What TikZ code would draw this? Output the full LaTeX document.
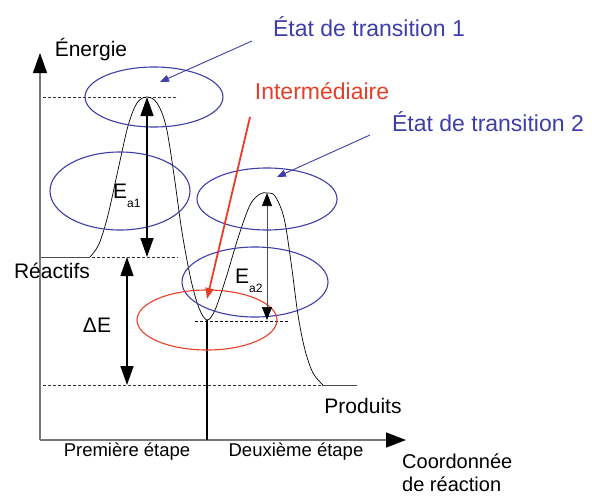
\documentclass[tikz,border=0pt]{standalone}
\usepackage{fontspec}
\setmainfont{Liberation Sans}
\usetikzlibrary{arrows.meta,shapes.geometric}
\definecolor{tblue}{RGB}{62,62,170}
\definecolor{tred}{RGB}{232,62,40}
\definecolor{axgray}{RGB}{120,120,120}
\tikzset{
  lab/.style={font=\fontsize{21}{24}\selectfont, inner sep=0pt},
  small/.style={font=\fontsize{18.5}{20}\selectfont, inner sep=0pt},
  blab/.style={font=\fontsize{23}{26}\selectfont, text=tblue, inner sep=0pt},
  rlab/.style={font=\fontsize{23}{26}\selectfont, text=tred, inner sep=0pt},
  ring/.style={ellipse, draw=tblue, line width=1.1pt, inner sep=0pt},
  rring/.style={ellipse, draw=tred, line width=1.1pt, inner sep=0pt},
  level/.style={draw=black!80, line width=0.6pt, dash pattern=on 3pt off 2pt},
  axis/.style={draw=axgray, line width=1.3pt},
  bigdbl/.style={line width=1.4pt, {Triangle[length=19pt,width=13pt]}-{Triangle[length=19pt,width=13pt]}},
  thindbl/.style={line width=0.7pt, draw=black!70, {Triangle[length=13pt,width=10pt,color=black]}-{Triangle[length=13pt,width=10pt,color=black]}},
  bptr/.style={draw=tblue, line width=0.9pt, -{Triangle[length=9pt,width=7pt]}},
  rptr/.style={draw=tred, line width=1.8pt, -{Triangle[length=11pt,width=8pt]}},
}
\begin{document}
\begin{tikzpicture}[x=1pt,y=-1pt]
\useasboundingbox (0,0) rectangle (592,498);
% key points
\coordinate (O) at (40,440);
\coordinate (ytip) at (40,53);
\coordinate (xtip) at (406,440);
\coordinate (peak1) at (147,97);
\coordinate (react) at (147,257);
\coordinate (inter) at (207,320);
\coordinate (peak2) at (267,193);
\coordinate (ea2b) at (267,320);
\coordinate (dEt) at (127,257);
\coordinate (dEb) at (127,385);
% dashed levels
\draw[level] (43,97) -- (178,97);
\draw[level] (92,257) -- (178,257);
\draw[level] (43,385) -- (322,385);
\draw[black, line width=1pt, dash pattern=on 3pt off 2pt] (195,321) -- (288,321);
% solid level parts
\draw[black!70, line width=0.7pt] (40,257) -- (90,257);
\draw[black!70, line width=0.7pt] (322,385) -- (357,385);
% axes
\draw[axis, -{Triangle[length=20pt,width=14pt,color=black]}] (O) -- (ytip);
\draw[axis, -{Triangle[length=20pt,width=15pt,color=black]}] (O) -- (xtip);
% step separator
\coordinate (sepb) at (207,440);
\draw[black, line width=1.5pt] (inter) -- (sepb);
% energy profile
\draw[black, line width=0.7pt] plot[smooth, tension=0.55] coordinates {
 (90,257) (99,244) (108,215) (118,170) (128,126) (137,103) (147,97) (157,103)
 (166,126) (174,175) (182,232) (191,280) (199,308) (207,320) (215,310)
 (226,278) (238,238) (250,205) (260,194) (267,193) (275,196) (284,218)
 (291,262) (298,315) (305,350) (313,373) (323,385)};
% ellipses
\node[ring, minimum width=138pt, minimum height=60pt] (e1) at (154,97) {};
\node[ring, minimum width=140pt, minimum height=78pt] (e2) at (120,191) {};
\node[ring, minimum width=140pt, minimum height=62pt] (e3) at (267,199) {};
\node[ring, minimum width=146pt, minimum height=70pt] (e4) at (255,282) {};
\node[rring, minimum width=140pt, minimum height=60pt] (e5) at (207,320) {};
% energy arrows
\draw[bigdbl] (peak1) -- (react);
\draw[bigdbl] (dEt) -- (dEb);
\draw[thindbl] (peak2) -- (ea2b);
% labels
\node[lab] (en) at (91,50) {Énergie};
\node[lab] (re) at (52,271) {Réactifs};
\node[lab] (de) at (97,325) {ΔE};
\node[lab] (pr) at (363,406) {Produits};
\node[lab, anchor=base west] (ea1) at (113,198) {E\raisebox{-9pt}{\fontsize{12}{12}\selectfont a1}};
\node[lab, anchor=base west] (ea2) at (235,283) {E\raisebox{-9pt}{\fontsize{12}{12}\selectfont a2}};
\node[small] (s1) at (127,452) {Première étape};
\node[small] (s2) at (296,452) {Deuxième étape};
\node[lab, align=left, anchor=north west, font=\fontsize{20}{22.5}\selectfont] (xl) at (402,454) {Coordonnée\\de réaction};
\node[blab] (t1) at (369,27) {État de transition 1};
\node[rlab] (im) at (322,91) {Intermédiaire};
\node[blab] (t2) at (488,122) {État de transition 2};
% pointers
\coordinate (p1s) at (252,41);
\coordinate (p1e) at (160,82);
\coordinate (p2s) at (370,135);
\coordinate (p2e) at (277,177);
\coordinate (rs) at (250,117);
\coordinate (re2) at (207,299);
\draw[bptr] (p1s) -- (p1e);
\draw[bptr] (p2s) -- (p2e);
\draw[rptr] (rs) -- (re2);
\end{tikzpicture}
\end{document}
